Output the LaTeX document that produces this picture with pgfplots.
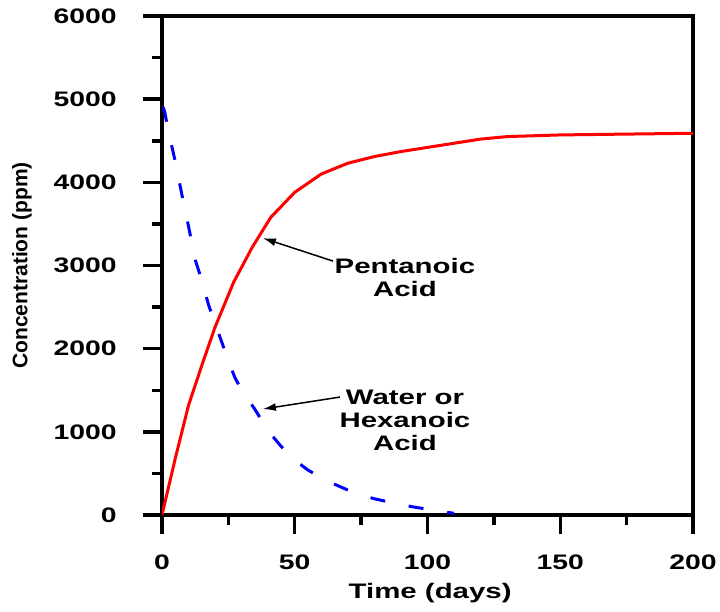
\documentclass[border=0pt]{standalone}
\usepackage{fontspec}
\setmainfont{Liberation Sans}
\usepackage{pgfplots}
\pgfplotsset{compat=1.18}
\usetikzlibrary{arrows.meta}
\newcommand{\chfont}{\fontsize{21}{23}\selectfont\bfseries}
\begin{document}
\begin{tikzpicture}
\path[use as bounding box] (-162pt,-96pt) rectangle (558pt,515pt);
\begin{axis}[
  at={(0pt,0pt)}, anchor=south west,
  scale only axis, width=531pt, height=499pt,
  xmin=0, xmax=200, ymin=0, ymax=6000,
  xtick={0,50,...,200}, ytick={0,1000,...,6000},
  minor xtick={25,75,125,175}, minor ytick={500,1500,...,5500},
  xtick pos=bottom, ytick pos=left,
  tick align=outside,
  major tick length=19pt, minor tick length=9.5pt,
  every tick/.style={black, line width=3.5pt},
  axis line style={line width=3.5pt},
  scaled y ticks=false,
  /pgf/number format/1000 sep={},
  /pgf/number format/assume math mode=true,
  tick label style={font=\chfont, xscale=1.35},
  xticklabel style={yshift=-17pt},
  yticklabel style={xshift=-16pt},
  xlabel={Time (days)}, ylabel={Concentration (ppm)},
  every axis x label/.style={at={(axis description cs:0.505,-0.1563)}, anchor=center, font=\chfont, xscale=1.4},
  every axis y label/.style={at={(axis description cs:-0.2637,0.5)}, anchor=center, rotate=90, font=\chfont},
]
\addplot[red, line width=3pt] coordinates {
(0,0) (5,680) (10,1320) (15,1800) (20,2260) (27,2800) (34,3220) (41,3580)
(50,3880) (60,4100) (70,4230) (80,4310) (90,4370) (100,4420) (110,4470)
(120,4520) (130,4550) (150,4570) (200,4590)};
\addplot[blue, line width=3pt, dash pattern=on 15pt off 24pt, dash phase=-4pt] coordinates {
(0,4950) (1,4850) (2.5,4600) (5,4250) (7.5,3850) (10,3470) (12.5,3070)
(15,2820) (17.5,2530) (20,2300) (22.5,2080) (25,1850) (27.5,1650) (30,1500)
(35,1270) (40,1010) (45,820) (50,660) (55,540) (60,450) (65,370) (70,300)
(75,240) (80,195) (85,160) (90,125) (95,95) (100,70) (105,45) (110,20)};
\node[font=\chfont, align=center, xscale=1.4] at (axis cs:91.5,2860) {Pentanoic\\Acid};
\node[font=\chfont, align=center, xscale=1.4] at (axis cs:91.5,1142) {Water or\\Hexanoic\\Acid};
\draw[-{Latex[length=13pt,width=8pt]}, line width=1.5pt] (axis cs:64.4,3053) -- (axis cs:38,3329);
\draw[-{Latex[length=13pt,width=8pt]}, line width=1.5pt] (axis cs:67,1418) -- (axis cs:38,1274);
\end{axis}
\end{tikzpicture}
\end{document}
